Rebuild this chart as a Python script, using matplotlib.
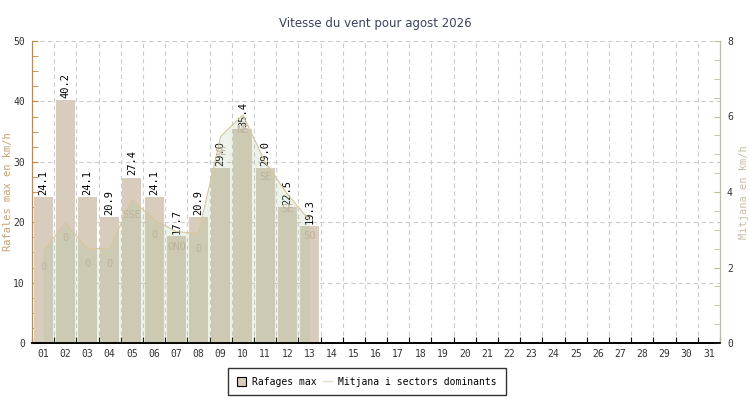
import matplotlib
matplotlib.use('Agg')
from matplotlib import pyplot as plt
from matplotlib.patches import Patch
from matplotlib.lines import Line2D
import numpy as np

# dades del mes (agost 2026)
dies = ['%02d' % d for d in range(1, 32)]
rafales = [24.1, 40.2, 24.1, 20.9, 27.4, 24.1, 17.7, 20.9, 29.0, 35.4, 29.0, 22.5, 19.3]
mitjana = [2.43, 3.18, 2.5, 2.5, 3.8, 3.27, 2.95, 2.9, 5.47, 6.04, 4.8, 3.95, 3.25]
sectors = ['0', '0', '0', '0', 'SSE', '0', 'ONO', '0', 'SE', 'NE', 'SE', 'SE', 'SO']

mono = 'DejaVu Sans Mono'
plt.rcParams['font.family'] = mono

fig = plt.figure(figsize=(7.5, 4), dpi=100)
ax = fig.add_axes([0.0427, 0.1425, 0.9173, 0.755])
ax2 = ax.twinx()

x = np.arange(1, len(rafales) + 1)
ax.bar(x, rafales, width=0.86, color='#d8cdbc', zorder=2)
for xi, v in zip(x, rafales):
    ax.annotate('%.1f' % v, (xi, v), xytext=(0, 1.5), textcoords='offset points',
                rotation=90, ha='center', va='bottom', fontsize=7.5, color='black', zorder=6)

# mitjana: area a l'eix dret
ax.set_zorder(1)
ax2.set_zorder(2)
ax.patch.set_visible(True)
ax2.patch.set_visible(False)
ax2.fill_between(x, mitjana, 0, color=(165/255, 190/255, 150/255), alpha=0.2, lw=0)
ax2.plot(x, mitjana, color='#d6c59c', lw=0.8)
for xi, v, s in zip(x, mitjana, sectors):
    ax2.annotate(s, (xi, v), xytext=(0, -11), textcoords='offset points',
                 ha='center', va='center', fontsize=7.5, color='#bdb29c')

ax.set_xlim(0.5, 31.5)
ax.set_ylim(0, 50)
ax2.set_ylim(0, 8)

# eix x
ax.set_xticks(np.arange(0.5, 32, 1))
ax.set_xticklabels([])
ax.set_xticks(np.arange(1, 32), minor=True)
ax.set_xticklabels(dies, minor=True)
ax.tick_params(axis='x', which='major', direction='in', length=4, color='black')
ax.tick_params(axis='x', which='minor', length=0, labelsize=7, labelcolor='#333333', pad=4)

# eix esquerre
ax.set_yticks(np.arange(0, 51, 10))
ax.set_yticks(np.arange(0, 50.1, 2.5), minor=True)
ax.tick_params(axis='y', which='both', direction='in', length=4, color='#c8873a',
               labelsize=7, labelcolor='#333333', pad=5)

# eix dret
ax2.set_yticks(np.arange(0, 9, 2))
ax2.set_yticks(np.arange(0, 8.1, 0.5), minor=True)
ax2.tick_params(axis='y', which='both', direction='in', length=4, color='#c4b8a0',
                labelsize=7, labelcolor='#333333', pad=5)

ax.grid(True, which='major', color='#cccccc', ls=(0, (4, 3)), lw=0.8, zorder=0)
ax.set_axisbelow(True)

for a in (ax, ax2):
    a.spines['top'].set_visible(False)
    a.spines['left'].set_color('#c8873a')
    a.spines['right'].set_color('#c4b8a0')
    a.spines['bottom'].set_color('black')
    a.spines['bottom'].set_linewidth(1.2)

# etiquetes dels eixos
fig.text(8 / 750, 1 - 192 / 400, 'Rafales max en km/h', rotation=90, ha='center',
         va='center', color='#c8a070', fontsize=7.5)
fig.text(744 / 750, 1 - 192 / 400, 'Mitjana en km/h', rotation=90, ha='center',
         va='center', color='#c8bea8', fontsize=7.5)

fig.text(0.5, 0.94, 'Vitesse du vent pour agost 2026', ha='center', va='center',
         fontsize=8.5, color='#3a4262', family=['Liberation Sans Narrow', 'DejaVu Sans'])

handles = [Patch(facecolor='#d8cdbc', edgecolor='black', lw=0.8),
           Line2D([0], [0], color='#e8dcc8', lw=1)]
leg = fig.legend(handles, ['Rafages max', 'Mitjana i sectors dominants'], ncol=2,
                 loc='center', bbox_to_anchor=(0.489, 0.046), fontsize=7,
                 frameon=True, fancybox=False, edgecolor='black', handlelength=1.0,
                 handleheight=1.0, columnspacing=0.6, handletextpad=0.6, borderpad=0.9)
leg.get_frame().set_linewidth(1)

fig.savefig('out.png', dpi=100)
